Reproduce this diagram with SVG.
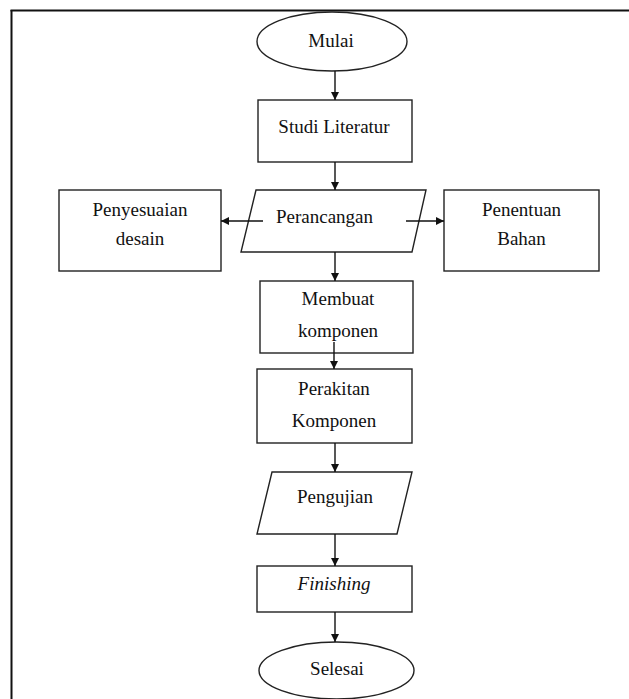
<svg xmlns="http://www.w3.org/2000/svg" width="629" height="699" viewBox="0 0 629 699">
<defs>
<marker id="ah" viewBox="0 0 10 10" refX="10" refY="5" markerWidth="8" markerHeight="8" markerUnits="userSpaceOnUse" orient="auto">
<path d="M0,0 L10,5 L0,10 z" fill="#111"/>
</marker>
<style>
.s{fill:#fff;stroke:#222;stroke-width:1.4}
.t{font-family:"Liberation Serif","Times New Roman",serif;font-size:19px;fill:#111;text-anchor:middle}
.c{fill:none;stroke:#111;stroke-width:1.4;marker-end:url(#ah)}
</style>
</defs>
<rect width="629" height="699" fill="#fff"/>
<g id="frame">
<line x1="10.5" y1="10.5" x2="629" y2="10.5" stroke="#111" stroke-width="2"/>
<line x1="11.5" y1="10" x2="11.5" y2="699" stroke="#111" stroke-width="2"/>
</g>
<g id="mulai"><ellipse class="s" cx="332" cy="41.5" rx="75" ry="29.5"/><text class="t" x="331" y="47">Mulai</text></g>
<g id="studi"><rect class="s" x="258" y="100" width="154" height="62"/><text class="t" x="334" y="133">Studi Literatur</text></g>
<g id="perancangan"><polygon class="s" points="256,190 426,190 412,252 241,252"/><text class="t" x="324.5" y="223">Perancangan</text></g>
<g id="penyesuaian"><rect class="s" x="59" y="190" width="162" height="81"/><text class="t" x="140" y="216">Penyesuaian</text><text class="t" x="140" y="245">desain</text></g>
<g id="penentuan"><rect class="s" x="444" y="190" width="155" height="81"/><text class="t" x="521.5" y="216">Penentuan</text><text class="t" x="521.5" y="245">Bahan</text></g>
<g id="membuat"><rect class="s" x="260" y="281" width="153" height="72"/><text class="t" x="338" y="305">Membuat</text><text class="t" x="338" y="337">komponen</text></g>
<g id="perakitan"><rect class="s" x="257" y="369" width="155" height="74"/><text class="t" x="334" y="395">Perakitan</text><text class="t" x="334" y="427">Komponen</text></g>
<g id="pengujian"><polygon class="s" points="272,472 412,472 397,534 257,534"/><text class="t" x="335" y="503">Pengujian</text></g>
<g id="finishing"><rect class="s" x="257" y="566" width="155" height="46"/><text class="t" x="334" y="590" font-style="italic">Finishing</text></g>
<g id="selesai"><ellipse class="s" cx="336.5" cy="670.5" rx="77.5" ry="28.5"/><text class="t" x="337" y="675">Selesai</text></g>
<g id="connectors">
<line class="c" x1="335" y1="71" x2="335" y2="100"/>
<line class="c" x1="335" y1="162" x2="335" y2="190"/>
<line class="c" x1="263" y1="221" x2="221" y2="221"/>
<line class="c" x1="406" y1="221" x2="444" y2="221"/>
<line class="c" x1="335" y1="252" x2="335" y2="281"/>
<line class="c" x1="334" y1="342" x2="334" y2="369"/>
<line class="c" x1="335" y1="443" x2="335" y2="472"/>
<line class="c" x1="335" y1="534" x2="335" y2="566"/>
<line class="c" x1="335" y1="612" x2="335" y2="642"/>
</g>
</svg>
